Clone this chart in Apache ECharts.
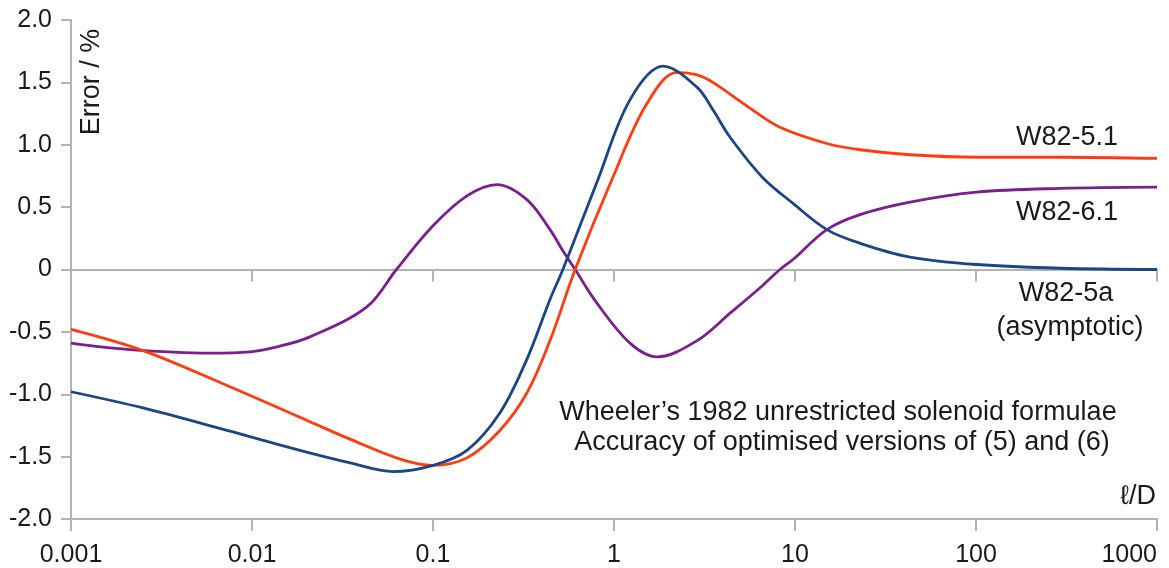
<!DOCTYPE html>
<html>
<head>
<meta charset="utf-8">
<script src="https://cdn.jsdelivr.net/npm/echarts@6/dist/echarts.min.js"></script>
<style>
  html, body { margin: 0; padding: 0; background: #fff; }
  #main { width: 1169px; height: 568px; }
</style>
</head>
<body>
<div id="main"></div>
<script>
// values (x = l/D, y = error %)
var red51X = [0.001, 0.0025, 0.00728, 0.0209, 0.0348, 0.0658, 0.1, 0.154, 0.234, 0.33, 0.443, 0.61, 0.986, 1.52, 2.23, 2.88, 3.52, 5.43, 8.26, 15, 22.9, 43.2, 101, 291, 1000];
var red51Y = [-0.48, -0.65, -0.93, -1.22, -1.36, -1.52, -1.57, -1.51, -1.29, -0.99, -0.57, 0.0, 0.74, 1.33, 1.58, 1.56, 1.50, 1.31, 1.14, 1.01, 0.96, 0.92, 0.90, 0.90, 0.89];

var blue5aX = [0.001, 0.0025, 0.00728, 0.0184, 0.0348, 0.0601, 0.1, 0.154, 0.234, 0.33, 0.443, 0.522, 0.805, 1.225, 1.87, 2.88, 3.52, 4.38, 6.6, 9.75, 15, 22.9, 43.2, 101, 291, 1000];
var blue5aY = [-0.98, -1.11, -1.29, -1.45, -1.55, -1.62, -1.57, -1.45, -1.15, -0.72, -0.24, 0.0, 0.70, 1.36, 1.63, 1.46, 1.28, 1.06, 0.74, 0.53, 0.32, 0.21, 0.10, 0.04, 0.01, 0.0];

var purple61X = [0.001, 0.00204, 0.00586, 0.00975, 0.01374, 0.0209, 0.0431, 0.0628, 0.1, 0.154, 0.226, 0.33, 0.443, 0.522, 0.61, 0.805, 1.225, 1.73, 2.88, 4.38, 6.6, 8.26, 9.75, 15, 22.9, 43.2, 101, 291, 1000];
var purple61Y = [-0.59, -0.64, -0.67, -0.66, -0.62, -0.54, -0.30, 0.0, 0.35, 0.59, 0.68, 0.56, 0.32, 0.15, 0.0, -0.27, -0.59, -0.70, -0.57, -0.35, -0.13, 0.0, 0.08, 0.32, 0.44, 0.54, 0.62, 0.65, 0.66];

var xTickLabels = ['0.001', '0.01', '0.1', '1', '10', '100', '1000'];

function pairs(xs, ys) {
  return xs.map(function (x, i) { return [x, ys[i]]; });
}

var myChart = echarts.init(document.getElementById('main'));
var font = '"Liberation Sans", Arial, sans-serif';
var axisGray = '#b3b3b3';
var textColor = '#1a1a1a';

function note(text, x, y, align) {
  return {
    type: 'text', x: x, y: y,
    style: { text: text, font: '27px ' + font, fill: textColor, align: align || 'center', verticalAlign: 'middle' }
  };
}

function curve(name, xs, ys, color, z) {
  return {
    name: name,
    type: 'line',
    smooth: 0.35,
    showSymbol: false,
    data: pairs(xs, ys),
    lineStyle: { color: color, width: 2.8 },
    itemStyle: { color: color },
    z: z
  };
}

myChart.setOption({
  animation: false,
  grid: { left: 71, right: 12, top: 20, bottom: 49, containLabel: false, outerBoundsMode: 'none' },
  xAxis: [
    {
      type: 'log',
      logBase: 10,
      min: 0.001,
      max: 1000,
      position: 'bottom',
      axisLine: { onZero: false, lineStyle: { color: axisGray, width: 2 } },
      axisTick: { show: true, length: 12, lineStyle: { color: axisGray, width: 2 } },
      minorTick: { show: false },
      splitLine: { show: false },
      axisLabel: {
        color: textColor,
        fontFamily: font,
        fontSize: 25,
        margin: 24,
        alignMaxLabel: 'right',
        formatter: function (v) {
          var i = Math.round(Math.log10(v) + 3);
          return xTickLabels[i] !== undefined ? xTickLabels[i] : '';
        }
      }
    },
    {
      type: 'log',
      logBase: 10,
      min: 0.001,
      max: 1000,
      position: 'top',
      axisLine: { onZero: true, lineStyle: { color: axisGray, width: 2 } },
      axisTick: { show: true, inside: true, length: 12, lineStyle: { color: axisGray, width: 2 } },
      splitLine: { show: false },
      axisLabel: { show: false }
    }
  ],
  yAxis: {
    type: 'value',
    min: -2,
    max: 2,
    interval: 0.5,
    axisLine: { show: true, onZero: false, lineStyle: { color: axisGray, width: 2 } },
    axisTick: { show: true, length: 10, lineStyle: { color: axisGray, width: 2 } },
    splitLine: { show: false },
    axisLabel: {
      color: textColor,
      fontFamily: font,
      fontSize: 25,
      margin: 19,
      formatter: function (v) {
        return v === 0 ? '0' : v.toFixed(1);
      }
    }
  },
  series: [
    curve('W82-5.1', red51X, red51Y, '#ff3c0f', 3),
    curve('W82-5a', blue5aX, blue5aY, '#1c4587', 4),
    curve('W82-6.1', purple61X, purple61Y, '#7b1f8f', 2)
  ],
  graphic: [
    { type: 'text', x: 92, y: 82, rotation: Math.PI / 2,
      style: { text: 'Error / %', font: '27px ' + font, fill: textColor, align: 'center', verticalAlign: 'middle' } },
    note('W82-5.1', 1067, 138),
    note('W82-6.1', 1067, 213),
    note('W82-5a', 1066, 294),
    note('(asymptotic)', 1070, 328),
    note('Wheeler\u2019s 1982 unrestricted solenoid formulae', 838, 413),
    note('Accuracy of optimised versions of (5) and (6)', 842, 443),
    note('\u2113/D', 1156, 497, 'right')
  ]
});
</script>
</body>
</html>
